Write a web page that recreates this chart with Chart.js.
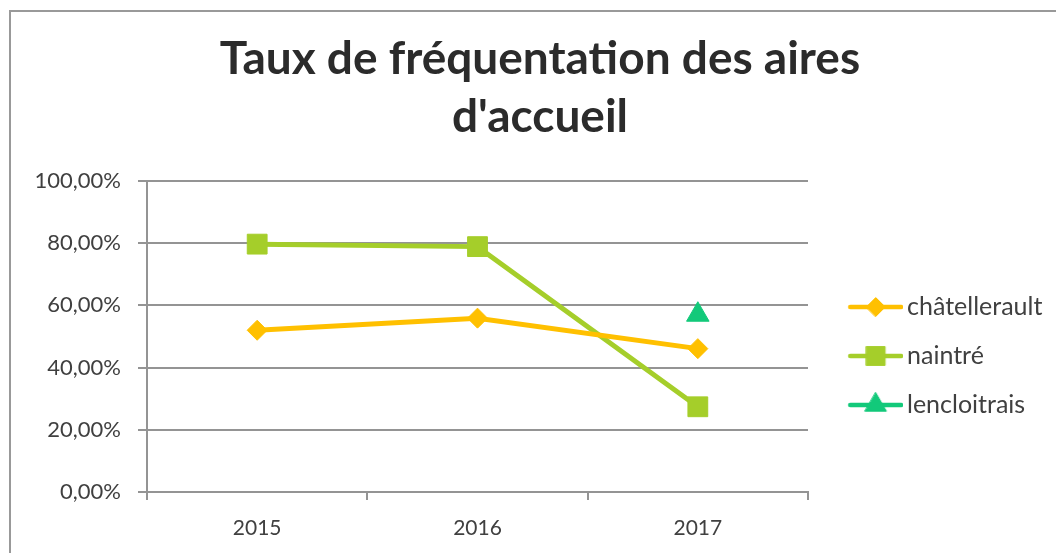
<!DOCTYPE html>
<html>
<head>
<meta charset="utf-8">
<script src="https://cdn.jsdelivr.net/npm/chart.js@4.4.1/dist/chart.umd.min.js"></script>
<style>
  body { margin: 0; background: #fff; }
  #wrap { position: relative; width: 1056px; height: 553px; overflow: hidden; }
  #frame { position: absolute; left: 9px; top: 10px; width: 1100px; height: 600px;
           border-left: 2px solid #999; border-top: 2px solid #999; }
  #chart { position: absolute; left: 0; top: 0; }
</style>
</head>
<body>
<div id="wrap">
  <div id="frame"></div>
  <canvas id="chart" width="1056" height="553"></canvas>
</div>
<script>
// data (rates as fractions)
const years = ['2015', '2016', '2017'];
const chatellerault = [0.520, 0.559, 0.461];
const naintre = [0.797, 0.789, 0.274];
const lencloitrais = [null, null, 0.570];
const yTicks = [0, 0.2, 0.4, 0.6, 0.8, 1];

const seriesNames = ['châtellerault', 'naintré', 'lencloitrais'];
const seriesColors = ['#FFC000', '#A5CE2A', '#12C97A'];
const markerStyles = ['rectRot', 'rect', 'triangle'];
const markerRadius = [10, 14, 13];

const textColor = '#404040';
const gridColor = '#949494';
const plotRight = 808;
const legendSize = 25;
const legendPad = 24;
const legendBox = 62.5;
const iconLineLen = 55;

// legend icon = short line with the marker in its middle,
// drawn so the line ends just before the label text
const boxCenter = plotRight + legendPad + legendBox / 2;
const lineEnd = plotRight + legendPad + legendBox + legendSize / 2 - 4;
const iconW = Math.round(2 * (lineEnd - boxCenter));

function makeIcon(i) {
  const c = document.createElement('canvas');
  c.width = iconW;
  c.height = 26;
  const ctx = c.getContext('2d');
  ctx.strokeStyle = seriesColors[i];
  ctx.fillStyle = seriesColors[i];
  ctx.lineWidth = 4.5;
  ctx.lineCap = 'round';
  ctx.beginPath();
  ctx.moveTo(iconW - iconLineLen + 2, 13);
  ctx.lineTo(iconW - 2, 13);
  ctx.stroke();
  ctx.lineWidth = 1;
  Chart.helpers.drawPoint(ctx, {
    pointStyle: markerStyles[i],
    radius: markerRadius[i] * 0.95,
    rotation: 0,
    borderWidth: 1
  }, iconW - iconLineLen / 2, 13);
  return c;
}
const legendIcons = seriesNames.map((n, i) => makeIcon(i));

// paddings so the plot stops at x=808 and the title is centred on x=540
const mctx = document.createElement('canvas').getContext('2d');
mctx.font = legendSize + 'px Lato';
const textW = Math.max(...seriesNames.map(n => mctx.measureText(n).width));
const legendW = legendPad + legendBox + legendSize / 2 + textW + 10;
const padR = Math.max(0, 1056 - plotRight - legendW);
const padL = padR + 24;

const pct = v => (v * 100).toFixed(2).replace('.', ',') + '%';

const datasets = [chatellerault, naintre, lencloitrais].map((d, i) => ({
  label: seriesNames[i],
  data: d,
  borderColor: seriesColors[i],
  backgroundColor: seriesColors[i],
  borderWidth: 5,
  pointStyle: markerStyles[i],
  pointRadius: markerRadius[i],
  pointHoverRadius: markerRadius[i],
  pointBorderWidth: 1,
  pointBorderColor: seriesColors[i],
  pointBackgroundColor: seriesColors[i],
  spanGaps: false,
  tension: 0
}));

new Chart(document.getElementById('chart'), {
  type: 'line',
  data: { labels: years, datasets: datasets },
  options: {
    responsive: false,
    animation: false,
    layout: { padding: { left: padL, right: padR, top: 0, bottom: 0 } },
    plugins: {
      title: {
        display: true,
        text: ['Taux de fréquentation des aires', "d'accueil"],
        color: '#2b2b2b',
        font: { family: 'Lato', size: 46, weight: 'bold', lineHeight: 58 / 46 },
        padding: { top: 30, bottom: 35 }
      },
      legend: {
        position: 'right',
        fullSize: false,
        maxWidth: 1056 - plotRight,
        title: { display: true, text: ' ', padding: 0, font: { size: 10, lineHeight: '39px' } },
        labels: {
          usePointStyle: true,
          pointStyleWidth: legendBox,
          padding: legendPad,
          color: textColor,
          font: { family: 'Lato', size: legendSize },
          generateLabels(chart) {
            const items = Chart.defaults.plugins.legend.labels.generateLabels(chart);
            items.forEach((item, i) => { item.pointStyle = legendIcons[i]; });
            return items;
          }
        }
      },
      tooltip: { enabled: false }
    },
    scales: {
      x: {
        offset: true,
        afterFit(scale) { scale.height = 61; },
        grid: { offset: true, drawOnChartArea: false, drawTicks: true, tickLength: 8, color: gridColor, lineWidth: 2 },
        border: { display: true, color: gridColor, width: 2 },
        ticks: { color: textColor, font: { family: 'Lato', size: 21 }, padding: 16 }
      },
      y: {
        min: 0,
        max: 1,
        afterFit(scale) { scale.width = 147 - padL; },
        afterBuildTicks(scale) { scale.ticks = yTicks.map(v => ({ value: v })); },
        grid: { color: gridColor, lineWidth: 2, tickLength: 9, drawTicks: true },
        border: { display: true, color: gridColor, width: 2 },
        ticks: { color: textColor, font: { family: 'Lato', size: 22 }, padding: 17, callback: v => pct(v) }
      }
    }
  }
});
</script>
</body>
</html>
